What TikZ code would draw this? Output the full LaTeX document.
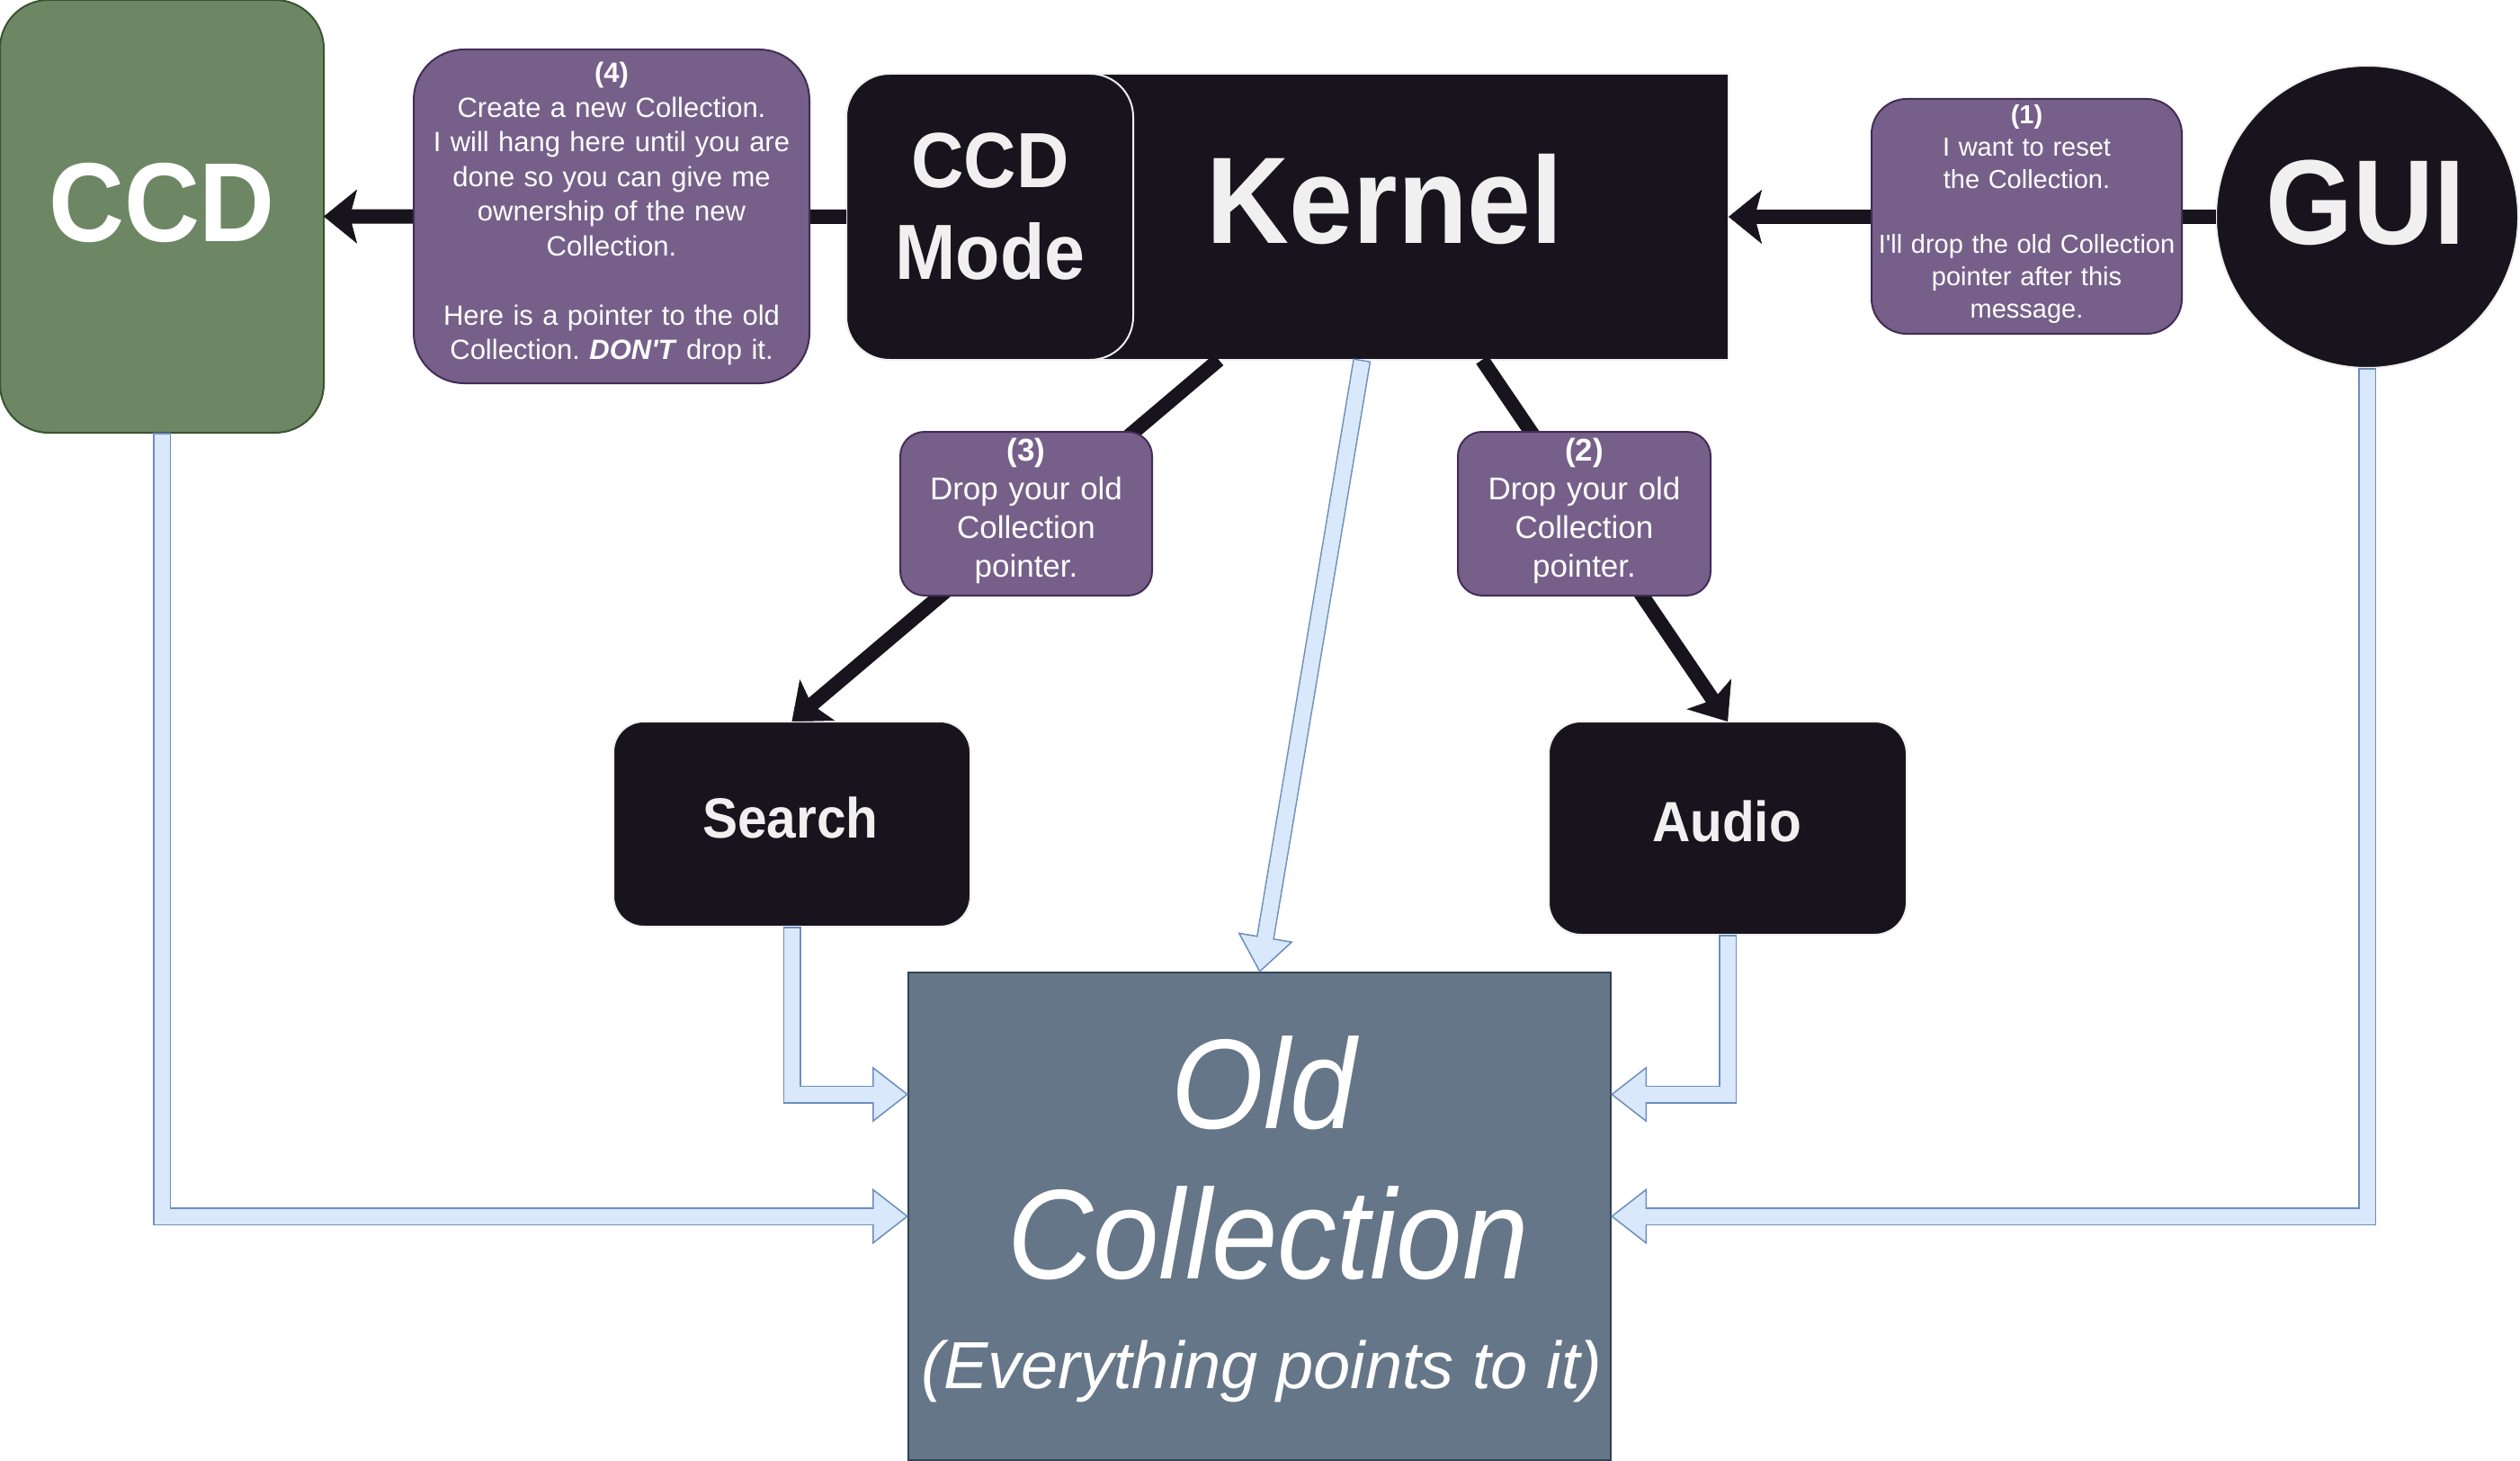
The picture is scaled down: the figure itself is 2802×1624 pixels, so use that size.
\documentclass[tikz,border=0pt]{standalone}
\usepackage{fontspec}
\setmainfont{Liberation Sans}[Ligatures=TeXOff]
\newfontfamily\bigsans{Liberation Sans}[FakeStretch=0.93,Ligatures=TeXOff]
\usetikzlibrary{arrows.meta,calc}
\definecolor{blk}{HTML}{18141D}
\definecolor{offw}{HTML}{F0F0F0}
\definecolor{purp}{HTML}{76608A}
\definecolor{purpd}{HTML}{432D57}
\definecolor{grn}{HTML}{6D8764}
\definecolor{grnd}{HTML}{3A5431}
\definecolor{slate}{HTML}{647687}
\definecolor{slated}{HTML}{314354}
\definecolor{bfill}{HTML}{DAE8FC}
\definecolor{bstroke}{HTML}{6C8EBF}
\frenchspacing
\begin{document}
\begin{tikzpicture}[x=1pt,y=-1pt,
  base/.style={inner sep=0pt,outer sep=0pt,line width=2pt},
  darkbox/.style={base,fill=blk,draw=offw},
  notebox/.style={base,fill=purp,draw=purpd},
  txt/.style={inner sep=0pt,outer sep=0pt,anchor=base,align=center},
  bigtxt/.style={txt,text=offw},
  notetxt/.style={txt,text=white},
  blackarrow/.style={draw=blk,line width=16pt,-{Stealth[length=37pt,width=60pt,inset=8pt,line width=0.5pt]}},
  flexarrow/.style={draw=bstroke,line width=20pt,-{Triangle[length=40pt,width=62pt,line width=1.5pt,fill=bfill]},
    postaction={draw=bfill,line width=17pt,arrows=-,shorten >=37pt,shorten <=1.5pt}}
]
\useasboundingbox (0,0) rectangle (2802,1624);
\fill[white] (0,0) rectangle (2802,1624);

% main shapes
\node[darkbox,minimum width=762pt,minimum height=318pt] (kernel) at (1541,241) {};
\node[darkbox,minimum width=319pt,minimum height=318pt,rounded corners=48pt] (ccdmode) at (1100.5,241) {};
\node[base,fill=grn,draw=grnd,minimum width=360pt,minimum height=481pt,rounded corners=54pt] (ccd) at (180,240.5) {};
\node[darkbox,circle,minimum size=336pt] (gui) at (2632,241) {};
\node[darkbox,minimum width=397pt,minimum height=228pt,rounded corners=34pt] (search) at (880.5,916) {};
\node[darkbox,minimum width=398pt,minimum height=237pt,rounded corners=36pt] (audio) at (1921,920.5) {};
\node[base,fill=slate,draw=slated,minimum width=781pt,minimum height=542pt] (old) at (1400.5,1352) {};

\coordinate (oldA) at ($(old.north west)!0.25!(old.south west)$);
\coordinate (oldB) at ($(old.north east)!0.25!(old.south east)$);

% black message arrows
\draw[blackarrow] (ccdmode) -- (ccd);
\draw[blackarrow] (gui) -- (kernel);
\draw[blackarrow] (kernel) -- (search.north);
\draw[blackarrow] (kernel) -- (audio.north);

% message boxes
\node[notebox,minimum width=440pt,minimum height=371pt,rounded corners=56pt] (n4) at (680,240.5) {};
\node[notebox,minimum width=345pt,minimum height=261pt,rounded corners=39pt] (n1) at (2253.5,240.5) {};
\node[notebox,minimum width=280pt,minimum height=182pt,rounded corners=27pt] (n3) at (1141,571) {};
\node[notebox,minimum width=281pt,minimum height=182pt,rounded corners=27pt] (n2) at (1761.5,571) {};

% pointer arrows
\draw[flexarrow] (kernel) -- (old.north);
\draw[flexarrow] (search.south) |- (oldA);
\draw[flexarrow] (audio.south) |- (oldB);
\draw[flexarrow] (ccd.south) |- (old.west);
\draw[flexarrow] (gui.south) |- (old.east);

% big labels
\node[bigtxt,text=white,font=\bigsans\bfseries\fontsize{125}{150}\selectfont] (ccdtxt) at (180,268) {CCD};
\node[bigtxt,font=\bigsans\bfseries\fontsize{134}{160}\selectfont] (guitxt) at (2630,271) {GUI};
\node[bigtxt,font=\bigsans\bfseries\fontsize{137}{164}\selectfont] (kerneltxt) at (1540,270) {Kernel};
\node[bigtxt,text width=319pt,font=\bigsans\bfseries\fontsize{87}{102}\selectfont] (ccdmodetxt) at (1101,208) {CCD\\Mode};
\node[bigtxt,font=\bigsans\bfseries\fontsize{63}{75}\selectfont] (searchtxt) at (879,931) {Search};
\node[bigtxt,font=\bigsans\bfseries\fontsize{63}{75}\selectfont] (audiotxt) at (1920,935) {Audio};
\node[txt,text=white,font=\bigsans\itshape\fontsize{142}{170}\selectfont] (oldtxt1) at (1405,1254) {Old};
\node[txt,text=white,font=\bigsans\itshape\fontsize{142}{170}\selectfont] (oldtxt2) at (1410,1421) {Collection};
\node[txt,text=white,font=\itshape\fontsize{74}{88}\selectfont] (oldtxt3) at (1403,1543) {(Everything points to it)};

% message texts
\node[notetxt,text width=440pt,font=\fontsize{31}{38.5}\selectfont] (n4txt) at (680,92)
  {\textbf{(4)}\\Create a new Collection.\\I will hang here until you are\\done so you can give me\\ownership of the new\\Collection.\\[38.5pt]Here is a pointer to the old\\Collection. \textbf{\textit{DON'T}} drop it.};
\node[notetxt,text width=345pt,font=\fontsize{29}{36}\selectfont] (n1txt) at (2253.5,138)
  {\textbf{(1)}\\I want to reset\\the Collection.\\[36pt]I'll drop the old Collection\\pointer after this\\message.};
\node[notetxt,text width=280pt,font=\fontsize{35}{43}\selectfont] (n3txt) at (1141,512)
  {\textbf{(3)}\\Drop your old\\Collection\\pointer.};
\node[notetxt,text width=281pt,font=\fontsize{35}{43}\selectfont] (n2txt) at (1761.5,512)
  {\textbf{(2)}\\Drop your old\\Collection\\pointer.};
\end{tikzpicture}
\end{document}
